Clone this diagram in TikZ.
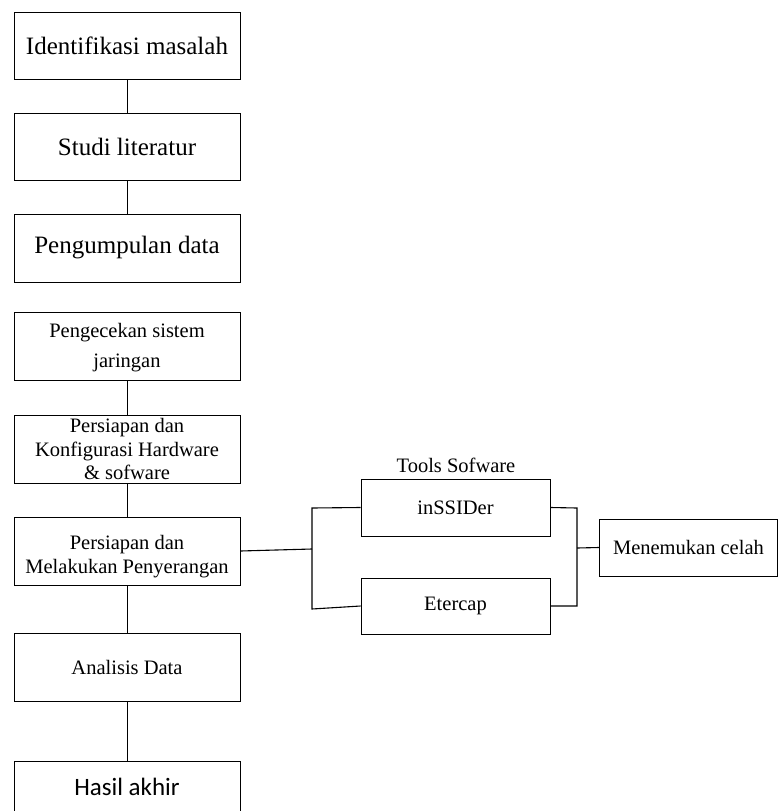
\documentclass[tikz,border=0pt]{standalone}
\usepackage{fontspec}
\setmainfont{Liberation Serif}
\newfontfamily\carl{Carlito}
\begin{document}
\begin{tikzpicture}[x=1pt,y=-1pt,
  box/.style={draw,line width=0.9pt,minimum width=226pt,inner sep=0pt,align=center},
  bigtxt/.style={font=\fontsize{25}{29}\selectfont},
  smalltxt/.style={font=\fontsize{20.5}{24}\selectfont},
  conn/.style={line width=1.1pt}]
\useasboundingbox (0,0) rectangle (778,811);
\clip (0,0) rectangle (778,811);
\node[box,bigtxt,minimum height=67pt] (b1) at (127,45.5) {Identifikasi masalah};
\node[box,bigtxt,minimum height=67pt] (b2) at (127,146.5) {Studi literatur};
\node[box,bigtxt,minimum height=68pt] (b3) at (127,248) {Pengumpulan data};
\node[box,minimum height=68pt] (b4) at (127,346) {};
\node[smalltxt,align=center] at (127,348) {Pengecekan sistem\\[6pt]jaringan};
\node[box,minimum height=68pt] (b5) at (127,449) {};
\node[font=\fontsize{20.5}{23.5}\selectfont,align=center] at (127,449) {Persiapan dan\\Konfigurasi Hardware\\\&\ sofware};
\node[box,minimum height=68pt] (b6) at (127,551) {};
\node[smalltxt,align=center] at (127,557) {Persiapan dan\\Melakukan Penyerangan};
\node[box,smalltxt,minimum height=68pt] (b7) at (127,667) {Analisis Data};
\node[box,minimum height=80pt,anchor=north] (b8) at (127,761) {};
\node[font=\carl\fontsize{25}{28}\selectfont] (t8) at (127,787) {Hasil akhir};

\node[draw,line width=0.9pt,minimum width=189pt,minimum height=57pt,smalltxt] (ins) at (455.5,507.5) {inSSIDer};
\node[draw,line width=0.9pt,minimum width=189pt,minimum height=56pt,smalltxt] (ett) at (455.5,606) {Etercap};
\node[smalltxt] (tools) at (456,465) {Tools Sofware};
\node[draw,line width=0.9pt,minimum width=178pt,minimum height=57pt,smalltxt,anchor=west] (men) at (599,547.5) {Menemukan celah};

\draw[line width=0.9pt] (b1) -- (b2);
\draw[line width=0.9pt] (b2) -- (b3);
\draw[line width=0.9pt] (b4) -- (b5);
\draw[line width=0.9pt] (b5) -- (b6);
\draw[line width=0.9pt] (b6) -- (b7);
\draw[line width=0.9pt] (b7) -- (b8);

\coordinate (lt) at (312,508);
\coordinate (lm) at (312,549);
\coordinate (lb) at (312,609);
\coordinate (rt) at (577,508);
\coordinate (rm) at (577,548);
\coordinate (rb) at (577,606);
\draw[conn] (b6.east) -- (lm);
\draw[conn] (ins.west) -- (lt) -- (lb) -- (ett.west);
\draw[conn] (ins.east) -- (rt) -- (rb) -- (ett.east);
\draw[conn] (rm) -- (men.west);
\end{tikzpicture}
\end{document}
